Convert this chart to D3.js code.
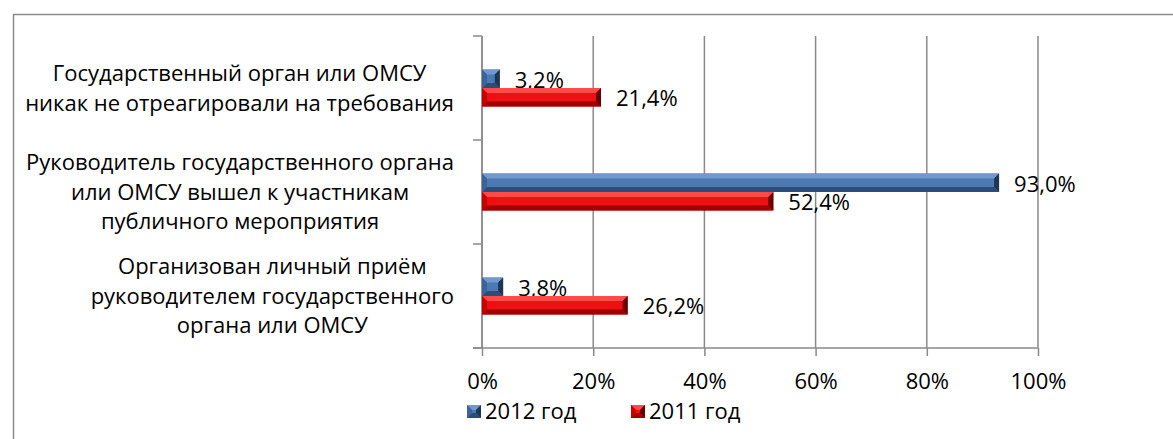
<!DOCTYPE html>
<html>
<head>
<meta charset="utf-8">
<script src="https://d3js.org/d3.v7.min.js"></script>
<style>
  body { margin: 0; background: #fff; }
  svg text { font-family: "Open Sans", "Noto Sans", sans-serif; fill: #000; }
</style>
</head>
<body>
<div id="chart"></div>
<script>
// Chart data
const categories = [
  ["Государственный орган или ОМСУ", "никак не отреагировали на требования"],
  ["Руководитель государственного органа", "или ОМСУ вышел к участникам", "публичного мероприятия"],
  ["Организован личный приём", "руководителем государственного", "органа или ОМСУ"]
];
const seriesNames = ["2012 год", "2011 год"];
const values2012 = [3.2, 93.0, 3.8];
const values2011 = [21.4, 52.4, 26.2];
const xTicks = [0, 20, 40, 60, 80, 100];

const width = 1173, height = 439;
const plot = {left: 482, right: 1038, top: 36, bottom: 348};
const fontSize = 22;
const lineH = 29.5;

// palettes for the bevelled bars: main, top, bottom, left, right
const palettes = [
  {main: "#4b79b3", top: "#7399cc", bottom: "#2d4d78", left: "#3d6499", right: "#1e3656"},
  {main: "#ee1010", top: "#ff4a4a", bottom: "#a10000", left: "#c80000", right: "#650000"}
];

const ruLocale = d3.formatLocale({decimal: ",", thousands: " ", grouping: [3], currency: ["", " ₽"]});
const fmtVal = ruLocale.format(".1f");

const svg = d3.select("#chart").append("svg")
  .attr("width", width)
  .attr("height", height);

// outer chart border (runs off right and bottom)
svg.append("rect")
  .attr("x", 13.5).attr("y", 14.5)
  .attr("width", width + 20).attr("height", height + 20)
  .attr("fill", "none")
  .attr("stroke", "#8c8c8c")
  .attr("stroke-width", 1.5);

// scales
const x = d3.scaleLinear().domain([0, 100]).range([plot.left, plot.right]);
const y = d3.scaleBand()
  .domain(d3.range(categories.length))
  .range([plot.top, plot.bottom])
  .paddingInner(0.644)
  .paddingOuter(0.322);
const ySeries = d3.scaleBand()
  .domain([0, 1])
  .range([0, y.bandwidth()]);

const gridColor = "#8a8a8a";

// vertical gridlines
svg.append("g")
  .selectAll("line")
  .data(xTicks)
  .enter()
  .append("line")
  .attr("x1", d => x(d)).attr("x2", d => x(d))
  .attr("y1", plot.top).attr("y2", plot.bottom)
  .attr("stroke", gridColor)
  .attr("stroke-width", 1.5);

// bottom axis
const xAxis = svg.append("g")
  .attr("transform", `translate(0,${plot.bottom})`)
  .call(d3.axisBottom(x).tickValues(xTicks).tickSize(8).tickSizeOuter(0).tickFormat(d => d + "%"));
xAxis.select(".domain").remove();
xAxis.selectAll(".tick line").attr("stroke", gridColor).attr("stroke-width", 1.5);
xAxis.selectAll(".tick text")
  .attr("y", 25)
  .attr("dy", "0.71em")
  .style("font-size", fontSize + "px")
  .style("font-family", '"Open Sans", sans-serif');
svg.append("line")
  .attr("x1", plot.left - 9).attr("x2", plot.right)
  .attr("y1", plot.bottom).attr("y2", plot.bottom)
  .attr("stroke", gridColor).attr("stroke-width", 1.5);

// left axis with ticks at band boundaries
const yBounds = d3.range(categories.length + 1).map(i => plot.top + i * y.step());
svg.append("line")
  .attr("x1", plot.left).attr("x2", plot.left)
  .attr("y1", plot.top).attr("y2", plot.bottom)
  .attr("stroke", gridColor).attr("stroke-width", 1.5);
svg.append("g")
  .selectAll("line")
  .data(yBounds)
  .enter()
  .append("line")
  .attr("x1", plot.left - 9).attr("x2", plot.left)
  .attr("y1", d => d).attr("y2", d => d)
  .attr("stroke", gridColor).attr("stroke-width", 1.5);

// category labels: block right-aligned, each line centred inside the block
const labelRight = 454;
categories.forEach((lines, i) => {
  const g = svg.append("g");
  const texts = lines.map(l => g.append("text")
    .style("font-size", fontSize + "px")
    .attr("text-anchor", "middle")
    .text(l));
  const blockW = d3.max(texts, t => t.node().getComputedTextLength());
  const cx = labelRight - blockW / 2;
  const cy = y(i) + y.bandwidth() / 2;
  texts.forEach((t, k) => {
    t.attr("x", cx)
      .attr("y", cy + (k - (lines.length - 1) / 2) * lineH)
      .attr("dy", "0.36em");
  });
});

// bevelled bar
function bevelBar(g, x0, y0, w, h, pal) {
  const b = Math.min(5, w / 2, h / 2);
  g.append("rect").attr("x", x0).attr("y", y0).attr("width", w).attr("height", h).attr("fill", pal.main);
  const poly = (pts, fill) => g.append("path")
    .attr("d", "M" + pts.map(p => p.join(",")).join("L") + "Z")
    .attr("fill", fill);
  const x1 = x0 + w, y1 = y0 + h;
  poly([[x0, y0], [x1, y0], [x1 - b, y0 + b], [x0 + b, y0 + b]], pal.top);
  poly([[x0, y1], [x1, y1], [x1 - b, y1 - b], [x0 + b, y1 - b]], pal.bottom);
  poly([[x0, y0], [x0 + b, y0 + b], [x0 + b, y1 - b], [x0, y1]], pal.left);
  poly([[x1, y0], [x1 - b, y0 + b], [x1 - b, y1 - b], [x1, y1]], pal.right);
}

const allSeries = [values2012, values2011];
allSeries.forEach((vals, s) => {
  const g = svg.append("g");
  vals.forEach((v, i) => {
    const by = y(i) + ySeries(s);
    const bh = ySeries.bandwidth();
    bevelBar(g, x(0), by, x(v) - x(0), bh, palettes[s]);
    g.append("text")
      .attr("x", x(v) + 15)
      .attr("y", by + bh / 2 + 1)
      .attr("dy", "0.36em")
      .style("font-size", fontSize + "px")
      .text(fmtVal(v) + "%");
  });
});

// legend
const legendItems = [{x: 467, s: 0}, {x: 631, s: 1}];
legendItems.forEach(item => {
  const g = svg.append("g");
  const box = 14;
  const pal = palettes[item.s];
  bevelBar(g, item.x, 405, box, box - 1, {main: pal.main, top: pal.top, bottom: pal.bottom, left: pal.left, right: pal.right});
  g.append("text")
    .attr("x", item.x + box + 4)
    .attr("y", 411)
    .attr("dy", "0.36em")
    .style("font-size", fontSize + "px")
    .text(seriesNames[item.s]);
});
</script>
</body>
</html>
